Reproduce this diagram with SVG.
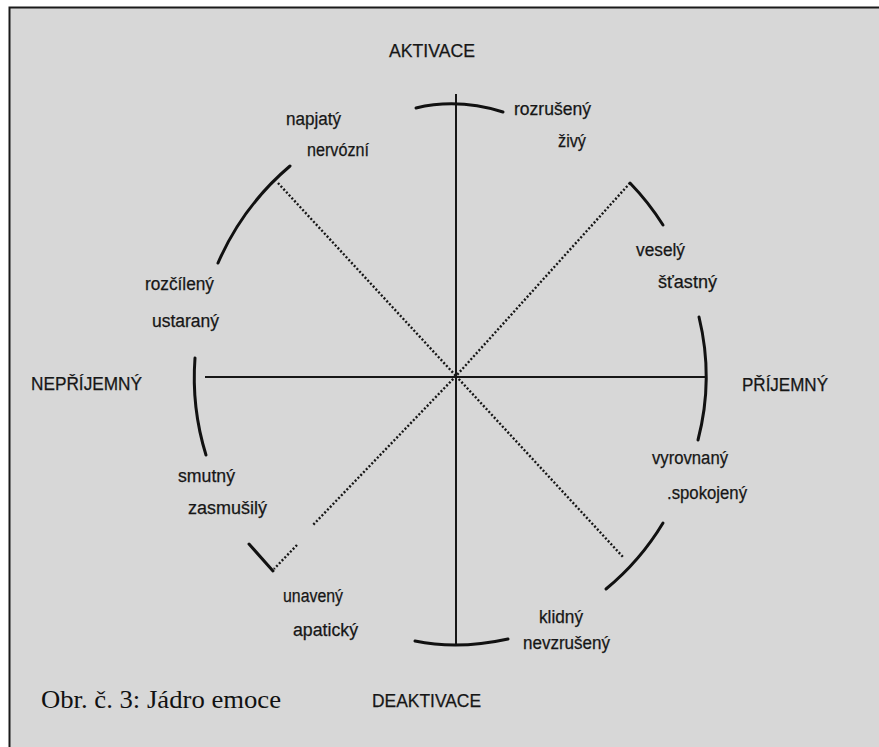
<svg xmlns="http://www.w3.org/2000/svg" width="879" height="747" viewBox="0 0 879 747">
  <style>
    .lbl { font-family: "Liberation Sans", Arial, sans-serif; font-size: 18px; fill: #161616; stroke: #161616; stroke-width: 0.25; }
    .cap { font-family: "Liberation Serif", "Times New Roman", serif; font-size: 26px; fill: #111; }
    .axis { stroke: #161616; stroke-width: 2; fill: none; }
    .arc { stroke: #111; stroke-width: 3; fill: none; stroke-linecap: round; }
    .dots { stroke: #161616; stroke-width: 2.4; fill: none; stroke-dasharray: 2 2; }
  </style>

  <!-- page and frame -->
  <rect x="0" y="0" width="879" height="747" fill="#ffffff"/>
  <rect x="9" y="7" width="870" height="740" fill="#d7d7d7"/>
  <path d="M9.5 747 V7.5 H879" stroke="#1a1a1a" stroke-width="2" fill="none"/>

  <!-- connectors: axes, diagonals and rim arcs -->
  <g id="connectors">
    <line class="axis" x1="456" y1="94" x2="456" y2="645"/>
    <line class="axis" x1="205" y1="377" x2="707" y2="377"/>

    <line class="dots" x1="278" y1="183" x2="456" y2="376"/>
    <line class="dots" x1="630" y1="183" x2="456" y2="376"/>
    <line class="dots" x1="456" y1="376" x2="623" y2="557"/>
    <line class="dots" x1="456" y1="376" x2="313" y2="525"/>
    <line class="dots" x1="297" y1="545" x2="274" y2="569"/>

    <path class="arc" d="M416 108 Q458 98 503 112"/>
    <path class="arc" d="M630 183 A258 258 0 0 1 663 225"/>
    <path class="arc" d="M699 317 A252 252 0 0 1 698 440"/>
    <path class="arc" d="M663 523 A257 257 0 0 1 606 589"/>
    <path class="arc" d="M415 641 Q458 650 508 639"/>
    <path class="arc" d="M249 544 L273 571"/>
    <path class="arc" d="M195 358 A262 262 0 0 0 206 455"/>
    <path class="arc" d="M290 166 A266 266 0 0 0 218 263"/>
  </g>

  <!-- axis poles -->
  <g id="aktivace"><text class="lbl" x="389" y="57" textLength="86" lengthAdjust="spacingAndGlyphs">AKTIVACE</text></g>
  <g id="deaktivace"><text class="lbl" x="372" y="707" textLength="109" lengthAdjust="spacingAndGlyphs">DEAKTIVACE</text></g>
  <g id="prijemny"><text class="lbl" x="742" y="391" textLength="86" lengthAdjust="spacingAndGlyphs">PŘÍJEMNÝ</text></g>
  <g id="neprijemny"><text class="lbl" x="31" y="390" textLength="111" lengthAdjust="spacingAndGlyphs">NEPŘÍJEMNÝ</text></g>

  <!-- octant labels -->
  <g id="rozruseny">
    <text class="lbl" x="514" y="115" textLength="77" lengthAdjust="spacingAndGlyphs">rozrušený</text>
    <text class="lbl" x="558" y="147" textLength="28" lengthAdjust="spacingAndGlyphs">živý</text>
  </g>
  <g id="vesely">
    <text class="lbl" x="636" y="256" textLength="49" lengthAdjust="spacingAndGlyphs">veselý</text>
    <text class="lbl" x="658" y="288" textLength="59" lengthAdjust="spacingAndGlyphs">šťastný</text>
  </g>
  <g id="vyrovnany">
    <text class="lbl" x="652" y="464" textLength="76" lengthAdjust="spacingAndGlyphs">vyrovnaný</text>
    <text class="lbl" x="667" y="499" textLength="80" lengthAdjust="spacingAndGlyphs">.spokojený</text>
  </g>
  <g id="klidny">
    <text class="lbl" x="539" y="623" textLength="44" lengthAdjust="spacingAndGlyphs">klidný</text>
    <text class="lbl" x="523" y="649" textLength="87" lengthAdjust="spacingAndGlyphs">nevzrušený</text>
  </g>
  <g id="unaveny">
    <text class="lbl" x="283" y="602" textLength="60" lengthAdjust="spacingAndGlyphs">unavený</text>
    <text class="lbl" x="293" y="636" textLength="65" lengthAdjust="spacingAndGlyphs">apatický</text>
  </g>
  <g id="smutny">
    <text class="lbl" x="178" y="482" textLength="57" lengthAdjust="spacingAndGlyphs">smutný</text>
    <text class="lbl" x="188" y="514" textLength="79" lengthAdjust="spacingAndGlyphs">zasmušilý</text>
  </g>
  <g id="rozcileny">
    <text class="lbl" x="145" y="290" textLength="69" lengthAdjust="spacingAndGlyphs">rozčílený</text>
    <text class="lbl" x="152" y="327" textLength="67" lengthAdjust="spacingAndGlyphs">ustaraný</text>
  </g>
  <g id="napjaty">
    <text class="lbl" x="286" y="125" textLength="55" lengthAdjust="spacingAndGlyphs">napjatý</text>
    <text class="lbl" x="307" y="156" textLength="62" lengthAdjust="spacingAndGlyphs">nervózní</text>
  </g>

  <!-- caption -->
  <g id="caption"><text class="cap" x="41" y="708" textLength="240" lengthAdjust="spacingAndGlyphs">Obr. č. 3: Jádro emoce</text></g>
</svg>
